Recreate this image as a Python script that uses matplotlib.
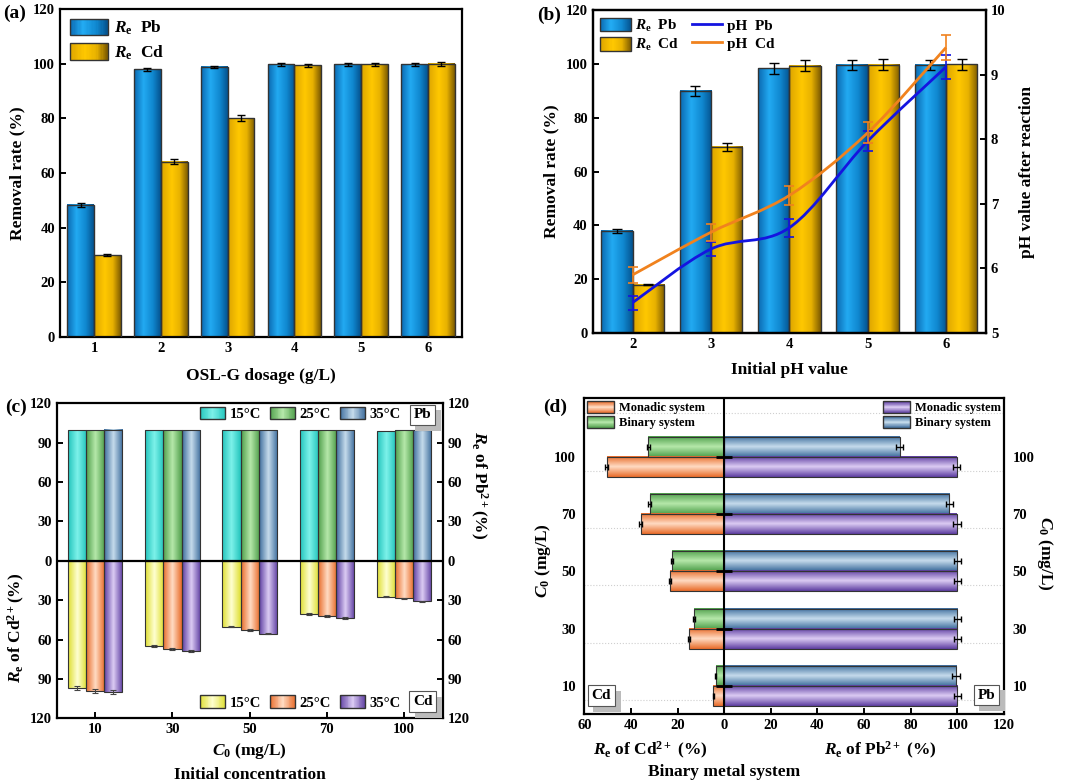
import numpy as np
import matplotlib
matplotlib.use("Agg")
import matplotlib.pyplot as plt
import matplotlib.patheffects as pe
from matplotlib.colors import LinearSegmentedColormap
from matplotlib.patches import Patch, Rectangle, PathPatch
from matplotlib.path import Path
from matplotlib.lines import Line2D
from matplotlib.legend_handler import HandlerBase
from matplotlib.transforms import blended_transform_factory

plt.rcParams.update({
    "font.family": ["Liberation Serif", "DejaVu Serif"],
    "font.weight": "bold",
    "axes.labelweight": "bold",
    "font.size": 10.5,
    "axes.linewidth": 1.6,
    "xtick.direction": "in",
    "ytick.direction": "in",
    "xtick.major.width": 1.4,
    "ytick.major.width": 1.4,
    "xtick.major.size": 4.5,
    "ytick.major.size": 4.5,
    "mathtext.fontset": "custom",
    "mathtext.rm": "Liberation Serif:bold",
    "mathtext.it": "Liberation Serif:italic:bold",
    "mathtext.bf": "Liberation Serif:bold",
})

# ---- (a) dosage ----
dosage = [1, 2, 3, 4, 5, 6]
a_pb = [48.3, 98.0, 98.8, 99.7, 99.8, 99.8]
a_pb_err = [0.8, 0.5, 0.4, 0.5, 0.5, 0.6]
a_cd = [30.0, 64.2, 80.1, 99.4, 99.7, 99.9]
a_cd_err = [0.5, 1.0, 1.2, 0.6, 0.5, 0.6]

# ---- (b) initial pH ----
ph0 = [2, 3, 4, 5, 6]
b_pb = [38.0, 90.0, 98.3, 99.6, 99.7]
b_pb_err = [0.8, 1.8, 2.0, 2.0, 1.8]
b_cd = [18.0, 69.2, 99.3, 99.7, 99.9]
b_cd_err = [0.3, 1.5, 2.0, 2.0, 2.0]
ph_pb = [5.47, 6.30, 6.63, 7.97, 9.12]
ph_pb_err = [0.11, 0.11, 0.14, 0.16, 0.19]
ph_cd = [5.90, 6.56, 7.13, 8.10, 9.42]
ph_cd_err = [0.12, 0.13, 0.15, 0.16, 0.19]

# ---- (c) temperature / concentration ----
conc = ["10", "30", "50", "70", "100"]
temps = ["15°C", "25°C", "35°C"]
c_pb = [[99.7, 99.6, 99.5, 99.5, 98.9],
        [99.7, 99.7, 99.6, 99.6, 99.4],
        [99.9, 99.7, 99.6, 99.6, 99.4]]
c_cd = [[96.9, 64.6, 50.1, 40.4, 27.2],
        [99.4, 66.9, 52.6, 42.0, 28.7],
        [100.0, 68.4, 55.4, 43.5, 30.8]]
c_cd_err = [[1.6, 0.8, 0.6, 0.5, 0.3],
            [1.6, 0.8, 0.6, 0.5, 0.3],
            [1.4, 0.8, 0.6, 0.5, 0.3]]

# ---- (d) binary system ----
d_cd_mono = [4.6, 15.2, 23.2, 35.8, 50.4]
d_cd_bin = [3.7, 12.9, 22.5, 31.9, 32.5]
d_pb_mono = [100.0, 100.0, 100.0, 99.9, 99.7]
d_pb_bin = [99.5, 100.0, 100.0, 96.6, 75.4]
d_cd_err = [0.4, 0.5, 0.5, 0.6, 0.6]
d_pb_err = [1.6, 1.6, 1.6, 1.6, 1.5]

# colour stops for the shaded bars
BLUE = [(0, "#0A68B0"), (0.35, "#22AAF2"), (0.7, "#1088D0"), (1, "#04528E")]
GOLD = [(0, "#DCA400"), (0.4, "#FFC800"), (0.7, "#E8B200"), (1, "#7C5A00")]
TURQ = [(0, "#22C4BC"), (0.5, "#7EF2EA"), (1, "#22C4BC")]
GREEN = [(0, "#4E9E4A"), (0.5, "#B6E8AA"), (1, "#4E9E4A")]
STEEL = [(0, "#3C6C9C"), (0.5, "#C6DCEC"), (1, "#3C6C9C")]
YELLOW = [(0, "#DEDE30"), (0.5, "#FFFFD2"), (1, "#DEDE30")]
ORANGE = [(0, "#E86A28"), (0.5, "#FFDCC4"), (1, "#E86A28")]
PURPLE = [(0, "#5C3CA0"), (0.5, "#DCCCF4"), (1, "#5C3CA0")]
EDGE = "#333333"


def shade(ax, bars, stops, horizontal=False):
    # paint a gradient inside each bar (cylinder look)
    cmap = LinearSegmentedColormap.from_list("g", stops)
    g = np.linspace(0, 1, 128)
    img = g[:, None] if horizontal else g[None, :]
    for b in bars:
        x0, y0 = b.get_x(), b.get_y()
        w, h = b.get_width(), b.get_height()
        ax.imshow(img, cmap=cmap, extent=(x0, x0 + w, y0, y0 + h),
                  aspect="auto", interpolation="bilinear", zorder=2)


class GradHandler(HandlerBase):
    def __init__(self, stops, horizontal=False):
        super().__init__()
        self.cmap = LinearSegmentedColormap.from_list("g", stops)
        self.horizontal = horizontal

    def create_artists(self, legend, orig, xd, yd, w, h, fontsize, trans):
        n = 30
        arts = []
        for i in range(n):
            c = self.cmap((i + 0.5) / n)
            if self.horizontal:
                r = Rectangle((-xd, -yd + h * i / n), w, h / n * 1.05, fc=c, lw=0,
                              antialiased=False, transform=trans)
            else:
                r = Rectangle((-xd + w * i / n, -yd), w / n * 1.05, h, fc=c, lw=0,
                              antialiased=False, transform=trans)
            arts.append(r)
        arts.append(Rectangle((-xd, -yd), w, h, fill=False, ec=EDGE, lw=1, transform=trans))
        return arts


def grad_legend(ax, stops_list, labels, horizontal=False, **kw):
    handles = [Patch() for _ in labels]
    hmap = {h: GradHandler(s, horizontal) for h, s in zip(handles, stops_list)}
    return ax.legend(handles, labels, handler_map=hmap, frameon=False, **kw)


def smooth(ax, x, y, color):
    # Catmull-Rom style bezier through the measured points
    n = len(x)
    verts = [(x[0], y[0])]
    codes = [Path.MOVETO]
    for i in range(n - 1):
        a = max(i - 1, 0)
        d = min(i + 2, n - 1)
        c1 = (x[i] + (x[i + 1] - x[a]) / 6, y[i] + (y[i + 1] - y[a]) / 6)
        c2 = (x[i + 1] - (x[d] - x[i]) / 6, y[i + 1] - (y[d] - y[i]) / 6)
        verts += [c1, c2, (x[i + 1], y[i + 1])]
        codes += [Path.CURVE4] * 3
    ax.add_patch(PathPatch(Path(verts, codes), fill=False, ec=color, lw=2, zorder=4))


def tag(ax, x, y, s):
    t = ax.text(x, y, s, transform=ax.transAxes, ha="center", va="center", fontsize=11,
                bbox=dict(boxstyle="square,pad=0.25", fc="white", ec="#555555", lw=0.8), zorder=7)
    t.get_bbox_patch().set_path_effects([
        pe.SimplePatchShadow(offset=(4, -4), shadow_rgbFace="#BBBBBB", alpha=1), pe.Normal()])


fig = plt.figure(figsize=(10.65, 7.83), dpi=100)
re = r"$R_\mathrm{e}$"

# ================= (a) =================
ax = fig.add_axes([0.0563, 0.5696, 0.3775, 0.4189])
x = np.array(dosage, dtype=float)
bp = ax.bar(x - 0.2, a_pb, 0.4, fc="none", ec=EDGE, lw=1, zorder=3)
bc = ax.bar(x + 0.2, a_cd, 0.4, fc="none", ec=EDGE, lw=1, zorder=3)
shade(ax, bp, BLUE)
shade(ax, bc, GOLD)
ax.errorbar(x - 0.2, a_pb, yerr=a_pb_err, fmt="none", ecolor="k", capsize=3, lw=1, capthick=1, zorder=5)
ax.errorbar(x + 0.2, a_cd, yerr=a_cd_err, fmt="none", ecolor="k", capsize=3, lw=1, capthick=1, zorder=5)
ax.set_xlim(0.49, 6.51)
ax.set_ylim(0, 120)
ax.set_xticks(x)
ax.set_yticks(np.arange(0, 121, 20))
ax.set_xlabel("OSL-G dosage (g/L)", fontsize=12.5)
ax.set_ylabel("Removal rate (%)", fontsize=12.5)
ax.xaxis.set_label_coords(0.5, -0.095)
ax.yaxis.set_label_coords(-0.085, 0.5)
grad_legend(ax, [BLUE, GOLD], [re + "  Pb", re + "  Cd"], loc="upper left",
            fontsize=12.5, handlelength=2.2, handleheight=1.1, labelspacing=0.35,
            handletextpad=0.35, borderaxespad=0.35, borderpad=0.2)
fig.text(0.003, 1 - 13 / 783, "(a)", fontsize=14, va="center", ha="left")

# ================= (b) =================
ax = fig.add_axes([0.5565, 0.5747, 0.3693, 0.4125])
x = np.array(ph0, dtype=float)
bp = ax.bar(x - 0.2, b_pb, 0.4, fc="none", ec=EDGE, lw=1, zorder=3)
bc = ax.bar(x + 0.2, b_cd, 0.4, fc="none", ec=EDGE, lw=1, zorder=3)
shade(ax, bp, BLUE)
shade(ax, bc, GOLD)
ax.errorbar(x - 0.2, b_pb, yerr=b_pb_err, fmt="none", ecolor="k", capsize=3.5, lw=1, capthick=1, zorder=5)
ax.errorbar(x + 0.2, b_cd, yerr=b_cd_err, fmt="none", ecolor="k", capsize=3.5, lw=1, capthick=1, zorder=5)
ax.set_xlim(1.49, 6.51)
ax.set_ylim(0, 120)
ax.set_xticks(x)
ax.set_yticks(np.arange(0, 121, 20))
ax.set_xlabel("Initial pH value", fontsize=12.5)
ax.set_ylabel("Removal rate (%)", fontsize=12.5)
ax.xaxis.set_label_coords(0.5, -0.09)
ax.yaxis.set_label_coords(-0.085, 0.5)
ax2 = ax.twinx()
smooth(ax2, ph0, ph_pb, "#1414E0")
smooth(ax2, ph0, ph_cd, "#F0821E")
ax2.errorbar(ph0, ph_pb, yerr=ph_pb_err, fmt="none", ecolor="#1414E0", capsize=3.5, lw=1.2, capthick=1.2, zorder=5)
ax2.errorbar(ph0, ph_cd, yerr=ph_cd_err, fmt="none", ecolor="#F0821E", capsize=3.5, lw=1.2, capthick=1.2, zorder=5)
ax2.set_ylim(5, 10)
ax2.set_yticks(np.arange(5, 11, 1))
ax2.set_ylabel("pH value after reaction", fontsize=12.5)
ax2.yaxis.set_label_coords(1.085, 0.5)
hb = [Patch(), Patch()]
hl = [Line2D([], [], color="#1414E0", lw=2), Line2D([], [], color="#F0821E", lw=2)]
ax2.legend(hb + hl, [re + "  Pb", re + "  Cd", "pH  Pb", "pH  Cd"], ncol=2,
           handler_map={hb[0]: GradHandler(BLUE), hb[1]: GradHandler(GOLD)},
           loc="upper left", frameon=False, fontsize=11, handlelength=2.0,
           handleheight=1.0, labelspacing=0.2, handletextpad=0.3, columnspacing=0.8,
           borderaxespad=0.3, borderpad=0.2)
fig.text(536.7 / 1065, 1 - 15 / 783, "(b)", fontsize=14, va="center", ha="left")

# ================= (c) =================
ax = fig.add_axes([0.0532, 0.0826, 0.3624, 0.4023])
pos = np.arange(len(conc))
w = 0.235
offs = [-w, 0, w]
top_st = [TURQ, GREEN, STEEL]
bot_st = [YELLOW, ORANGE, PURPLE]
for k in range(3):
    b1 = ax.bar(pos + offs[k], c_pb[k], w, fc="none", ec=EDGE, lw=0.8, zorder=3)
    b2 = ax.bar(pos + offs[k], -np.array(c_cd[k]), w, fc="none", ec=EDGE, lw=0.8, zorder=3)
    shade(ax, b1, top_st[k])
    shade(ax, b2, bot_st[k])
    ax.errorbar(pos + offs[k], -np.array(c_cd[k]), yerr=c_cd_err[k], fmt="none",
                ecolor="#444444", capsize=2.5, lw=0.8, capthick=0.8, zorder=5)
ax.axhline(0, color="k", lw=1.6, zorder=6)
ax.set_xlim(-0.5, 4.5)
ax.set_ylim(-120, 120)
ax.set_xticks(pos)
ax.set_xticklabels(conc)
yt = np.arange(-120, 121, 30)
ax.set_yticks(yt)
ax.set_yticklabels([str(abs(t)) for t in yt])
ax.tick_params(axis="y", right=True, labelright=True)
ax.text(0.5, -0.105, r"$C_0$ (mg/L)", transform=ax.transAxes, ha="center", va="center", fontsize=12.5)
ax.text(0.5, -0.18, "Initial concentration", transform=ax.transAxes, ha="center", va="center", fontsize=12.5)
ax.text(-0.104, 0.287, re + r" of Cd$^{2+}$(%)", transform=ax.transAxes, rotation=90,
        ha="center", va="center", fontsize=12.5)
ax.text(1.092, 0.74, re + r" of Pb$^{2+}$(%)", transform=ax.transAxes, rotation=270,
        ha="center", va="center", fontsize=12.5)
lg = grad_legend(ax, top_st, temps, loc="center right", bbox_to_anchor=(0.915, 0.966),
                 ncol=3, fontsize=10.5, handlelength=1.75, handleheight=0.95,
                 handletextpad=0.3, columnspacing=0.6, borderpad=0.1)
ax.add_artist(lg)
grad_legend(ax, bot_st, temps, loc="center right", bbox_to_anchor=(0.915, 0.05),
            ncol=3, fontsize=10.5, handlelength=1.75, handleheight=0.95,
            handletextpad=0.3, columnspacing=0.6, borderpad=0.1)
tag(ax, 0.948, 0.963, "Pb")
tag(ax, 0.948, 0.053, "Cd")
fig.text(5 / 1065, 1 - 407 / 783, "(c)", fontsize=14, va="center", ha="left")

# ================= (d) =================
ax = fig.add_axes([0.5486, 0.0877, 0.3941, 0.4036])
p = np.arange(len(conc))
h = 0.35
for k in range(len(p) + 1):
    ax.axhline(k - 0.244, ls=":", color="#CFCFCF", lw=0.8, zorder=0)
r1 = ax.barh(p + h / 2, -np.array(d_cd_bin), h, fc="none", ec=EDGE, lw=0.8, zorder=3)
r2 = ax.barh(p - h / 2, -np.array(d_cd_mono), h, fc="none", ec=EDGE, lw=0.8, zorder=3)
r3 = ax.barh(p + h / 2, d_pb_bin, h, fc="none", ec=EDGE, lw=0.8, zorder=3)
r4 = ax.barh(p - h / 2, d_pb_mono, h, fc="none", ec=EDGE, lw=0.8, zorder=3)
shade(ax, r1, GREEN, horizontal=True)
shade(ax, r2, ORANGE, horizontal=True)
shade(ax, r3, STEEL, horizontal=True)
shade(ax, r4, PURPLE, horizontal=True)
ax.errorbar(-np.array(d_cd_bin), p + h / 2, xerr=d_cd_err, fmt="none", ecolor="k", capsize=2, lw=1, zorder=5)
ax.errorbar(-np.array(d_cd_mono), p - h / 2, xerr=d_cd_err, fmt="none", ecolor="k", capsize=2, lw=1, zorder=5)
ax.errorbar(d_pb_bin, p + h / 2, xerr=d_pb_err, fmt="none", ecolor="k", capsize=2, lw=1, zorder=5)
ax.errorbar(d_pb_mono, p - h / 2, xerr=d_pb_err, fmt="none", ecolor="k", capsize=2, lw=1, zorder=5)
ax.axvline(0, color="k", lw=1.5, zorder=6)
ax.plot(np.zeros(len(p)), p, ls="none", marker="_", ms=12, mew=2, color="k", zorder=7)
ax.set_xlim(-60, 120)
ax.set_ylim(-0.494, 5.017)
xt = np.arange(-60, 121, 20)
ax.set_xticks(xt)
ax.set_xticklabels([str(abs(t)) for t in xt])
ax.set_yticks(p)
ax.set_yticklabels(conc)
ax.tick_params(axis="y", length=0, pad=6, labelright=True)
tb = blended_transform_factory(ax.transData, ax.transAxes)
ax.text(-31.8, -0.113, re + r" of Cd$^{2+}$ (%)", transform=tb, ha="center", va="center", fontsize=12.5)
ax.text(66.8, -0.113, re + r" of Pb$^{2+}$ (%)", transform=tb, ha="center", va="center", fontsize=12.5)
ax.text(0, -0.182, "Binary metal system", transform=tb, ha="center", va="center", fontsize=12.5)
ax.text(-0.098, 0.488, r"$C_0$ (mg/L)", transform=ax.transAxes, rotation=90, ha="center", va="center", fontsize=12.5)
ax.text(1.098, 0.51, r"$C_0$ (mg/L)", transform=ax.transAxes, rotation=270, ha="center", va="center", fontsize=12.5)
lg = grad_legend(ax, [ORANGE, GREEN], ["Monadic system", "Binary system"], horizontal=True,
                 loc="upper left", fontsize=9, handlelength=2.15, handleheight=1.05,
                 labelspacing=0.15, handletextpad=0.4, borderaxespad=0.15, borderpad=0.1)
ax.add_artist(lg)
grad_legend(ax, [PURPLE, STEEL], ["Monadic system", "Binary system"], horizontal=True,
            loc="upper right", fontsize=9, handlelength=2.15, handleheight=1.05,
            labelspacing=0.15, handletextpad=0.4, borderaxespad=0.15, borderpad=0.1)
tag(ax, 0.041, 0.059, "Cd")
tag(ax, 0.958, 0.061, "Pb")
fig.text(542.7 / 1065, 1 - 407 / 783, "(d)", fontsize=14, va="center", ha="left")

fig.savefig("out.png", dpi=100)
